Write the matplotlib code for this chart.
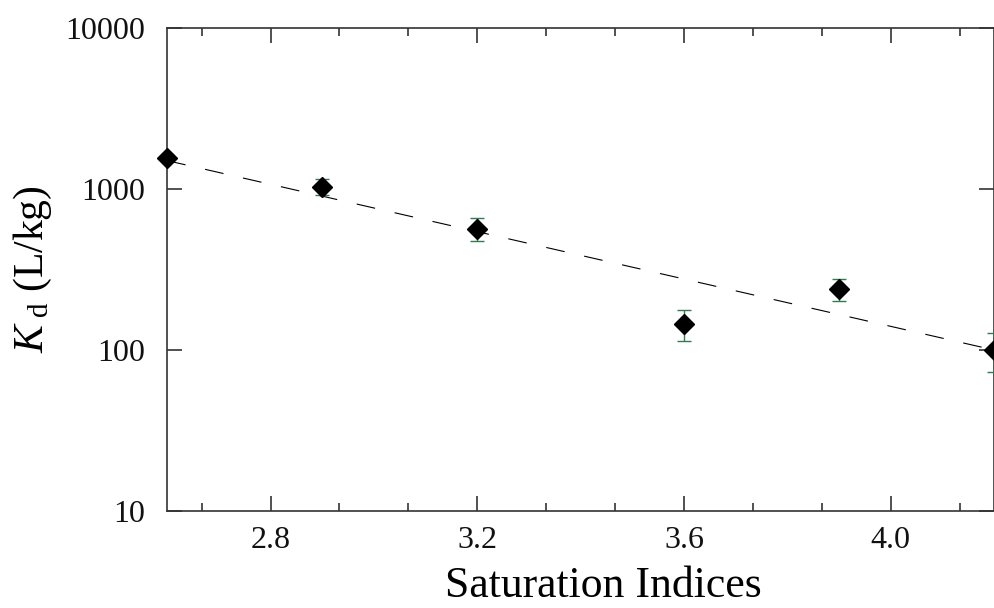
"""
    plot.py
        -- Kd vs saturation indices (log scale)
"""
import matplotlib

matplotlib.use("Agg")
import matplotlib.pyplot as plt
from matplotlib.ticker import FixedLocator, MultipleLocator, NullLocator

# measured points
si = [2.6, 2.9, 3.2, 3.6, 3.9, 4.2]
kd = [1550, 1035, 567, 145, 239, 100]
kd_err = [0, 120, 90, 32, 37, 27]

# dashed fit line (straight on a log axis), end points
fit_si = [2.6, 4.2]
fit_kd = [1500, 100]

yticks = [10, 100, 1000, 10000]
ytick_labels = ["10", "100", "1000", "10000"]
xticks = [2.8, 3.2, 3.6, 4.0]
xtick_labels = ["2.8", "3.2", "3.6", "4.0"]

plt.rcParams["font.family"] = ["Liberation Serif", "DejaVu Serif"]
plt.rcParams["mathtext.fontset"] = "custom"
plt.rcParams["mathtext.rm"] = "Liberation Serif"
plt.rcParams["mathtext.it"] = "Liberation Serif:italic"


def main():
    fig = plt.figure(figsize=(9.95, 6.08), dpi=100)
    ax = fig.add_axes([0.168, 0.1595, 0.831, 0.7945])

    ax.plot(fit_si, fit_kd, color="black", linewidth=0.8,
            dashes=(17, 18), dash_capstyle="butt", zorder=2)
    ax.errorbar(si, kd, yerr=kd_err, fmt="none", ecolor="#2e7d4f",
                elinewidth=1.0, capsize=5, capthick=1.0, zorder=3,
                clip_on=False)
    ax.plot(si, kd, linestyle="none", marker="D", markersize=10,
            color="black", markeredgewidth=1, zorder=4, clip_on=False)

    ax.set_yscale("log")
    ax.set_xlim(2.6, 4.2)
    ax.set_ylim(10, 10000)

    ax.xaxis.set_major_locator(FixedLocator(xticks))
    ax.set_xticklabels(xtick_labels)
    ax.xaxis.set_minor_locator(MultipleLocator(0.4 / 3))
    ax.yaxis.set_major_locator(FixedLocator(yticks))
    ax.set_yticklabels(ytick_labels)
    ax.yaxis.set_minor_locator(NullLocator())

    ax.tick_params(which="both", direction="in", top=True, right=True,
                   color="#333333", width=1.2, labelsize=23,
                   labelcolor="#111111")
    ax.tick_params(which="major", length=11)
    ax.tick_params(which="minor", length=5.5)
    ax.tick_params(axis="x", pad=11)
    ax.tick_params(axis="y", pad=16)
    for sp in ax.spines.values():
        sp.set_color("#333333")
        sp.set_linewidth(1.2)

    ax.set_xlabel("Saturation Indices", fontsize=31.5, labelpad=8)
    ax.xaxis.label.set_x(0.527)
    ax.set_ylabel(r"$K_{\rm \ d}$ (L/kg)", fontsize=30, labelpad=8)

    fig.savefig("out.png", dpi=100)
    plt.close("all")


if __name__ == "__main__":
    main()
